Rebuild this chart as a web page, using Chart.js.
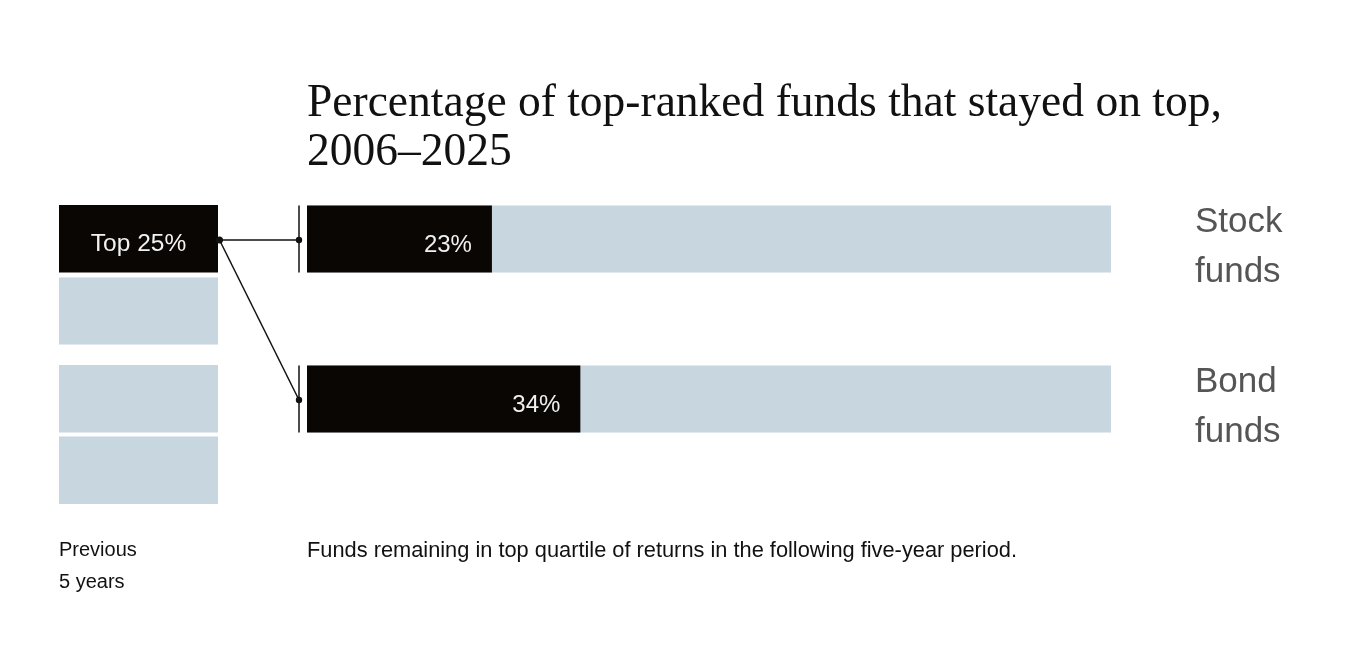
<!DOCTYPE html>
<html><head><meta charset="utf-8">
<script src="https://cdn.jsdelivr.net/npm/chart.js@4.4.1/dist/chart.umd.min.js"></script>
<style>
html,body{margin:0;padding:0;background:#fff;}
#wrap{position:relative;width:1358px;height:650px;}
canvas{position:absolute;left:0;top:0;}
</style></head><body>
<div id="wrap"><canvas id="left" width="1358" height="650"></canvas><canvas id="right" width="1358" height="650"></canvas></div>
<script>
// ---- data ----
const titleLines = ['Percentage of top-ranked funds that stayed on top,', '2006\u20132025'];
const fundCategories = ['Stock funds', 'Bond funds'];
const stayedTopPct = [23, 34];
const totalPct = [100, 100];
const quartileLabels = ['Bottom 25%', '50\u201375%', '25\u201350%', 'Top 25%'];
const quartileShares = [25, 25, 25, 25];
const previousPeriod = ['Previous 5 years'];
const leftCaption = ['Previous', '5 years'];
const rightCaption = 'Funds remaining in top quartile of returns in the following five-year period.';

// ---- styles ----
const BLUE = '#c8d6e0', BLACK = '#0a0604';
const qBorders = [{top:2.5,bottom:9.5},{top:10.5,bottom:1.5},{top:2.5,bottom:10},{top:9.5,bottom:2.5}];
const SANS = '"Liberation Sans", Arial, sans-serif';

const leftChart = new Chart(document.getElementById('left'), {
  type: 'bar',
  data: {
    labels: previousPeriod,
    datasets: quartileLabels.map((lab, i) => ({
      label: lab,
      data: [quartileShares[i]],
      backgroundColor: i === quartileLabels.length - 1 ? BLACK : BLUE,
      borderColor: '#ffffff',
      borderWidth: qBorders[i],
      borderSkipped: false,
      inflateAmount: 0,
      barPercentage: 1,
      categoryPercentage: 1
    }))
  },
  options: {
    responsive: false, animation: false, events: [],
    layout: {padding: {left: 59, right: 1140, top: 195.5, bottom: 136.5}},
    scales: {
      x: {display: false, stacked: true},
      y: {display: false, stacked: true, min: 0, max: 100}
    },
    plugins: {legend: {display: false}, tooltip: {enabled: false}}
  },
  plugins: [{
    id: 'boxLabel',
    afterDatasetsDraw(chart) {
      const ctx = chart.ctx;
      const last = quartileLabels.length - 1;
      const el = chart.getDatasetMeta(last).data[0];
      const b = qBorders[last];
      const cy = (el.y + b.top + el.base - b.bottom) / 2;
      ctx.save();
      ctx.fillStyle = '#f2f2f2';
      ctx.font = '24.5px ' + SANS;
      ctx.textAlign = 'center';
      ctx.textBaseline = 'alphabetic';
      ctx.fillText(quartileLabels[last], el.x, cy + 12);
      ctx.restore();
    }
  }]
});

new Chart(document.getElementById('right'), {
  type: 'bar',
  data: {
    labels: fundCategories,
    datasets: [
      {label: 'Stayed in top quartile', data: stayedTopPct, backgroundColor: BLACK, order: 0},
      {label: 'All top-ranked funds', data: totalPct, backgroundColor: BLUE, order: 1}
    ]
  },
  options: {
    indexAxis: 'y',
    responsive: false, animation: false, events: [],
    layout: {padding: {left: 307, right: 247, top: 159, bottom: 171}},
    datasets: {bar: {grouped: false, barThickness: 67, inflateAmount: 0, borderWidth: 0}},
    scales: {
      x: {display: false, min: 0, max: 100},
      y: {display: false}
    },
    plugins: {legend: {display: false}, tooltip: {enabled: false}}
  },
  plugins: [{
    id: 'decor',
    afterDraw(chart) {
      const ctx = chart.ctx;
      const area = chart.chartArea;
      const blackMeta = chart.getDatasetMeta(0);
      ctx.save();

      // title
      ctx.fillStyle = '#111';
      ctx.textAlign = 'left';
      ctx.textBaseline = 'alphabetic';
      ctx.font = '40px "Liberation Serif", serif';
      const w = ctx.measureText(titleLines[0]).width;
      const size = 40 * 915 / w;
      ctx.font = size.toFixed(2) + 'px "Liberation Serif", serif';
      ctx.fillText(titleLines[0], area.left, 116);
      ctx.fillText(titleLines[1], area.left, 165);

      // value labels
      ctx.font = '24px ' + SANS;
      ctx.fillStyle = '#f0f0f0';
      ctx.textAlign = 'right';
      blackMeta.data.forEach((el, i) => {
        ctx.fillText(stayedTopPct[i] + '%', el.x - 20, el.y + 13);
      });

      // category names on right
      ctx.font = '35px ' + SANS;
      ctx.fillStyle = '#555555';
      ctx.textAlign = 'left';
      blackMeta.data.forEach((el, i) => {
        const parts = fundCategories[i].split(' ');
        ctx.fillText(parts[0], 1195, el.y - 7);
        ctx.fillText(parts[1], 1195, el.y + 43);
      });

      // connectors
      const box = leftChart.getDatasetMeta(quartileLabels.length - 1).data[0];
      const sx = box.x + box.width / 2 + 1.5;
      const sy = blackMeta.data[0].y + 1;
      const tx = area.left - 8;
      ctx.strokeStyle = '#111';
      ctx.fillStyle = '#111';
      ctx.lineWidth = 1.5;
      blackMeta.data.forEach((el) => {
        ctx.beginPath();
        ctx.moveTo(tx, el.y - el.height / 2);
        ctx.lineTo(tx, el.y + el.height / 2);
        ctx.stroke();
        ctx.beginPath();
        ctx.moveTo(sx, sy);
        ctx.lineTo(tx, el.y + 1);
        ctx.stroke();
        ctx.beginPath();
        ctx.arc(tx, el.y + 1, 3.2, 0, Math.PI * 2);
        ctx.fill();
      });
      ctx.beginPath();
      ctx.arc(sx, sy, 3.5, 0, Math.PI * 2);
      ctx.fill();

      // captions
      ctx.fillStyle = '#111';
      ctx.font = '20px ' + SANS;
      ctx.fillText(leftCaption[0], 59, 556);
      ctx.fillText(leftCaption[1], 59, 588);
      ctx.font = '21.8px ' + SANS;
      ctx.fillText(rightCaption, area.left, 557);
      ctx.restore();
    }
  }]
});
</script>
</body></html>
